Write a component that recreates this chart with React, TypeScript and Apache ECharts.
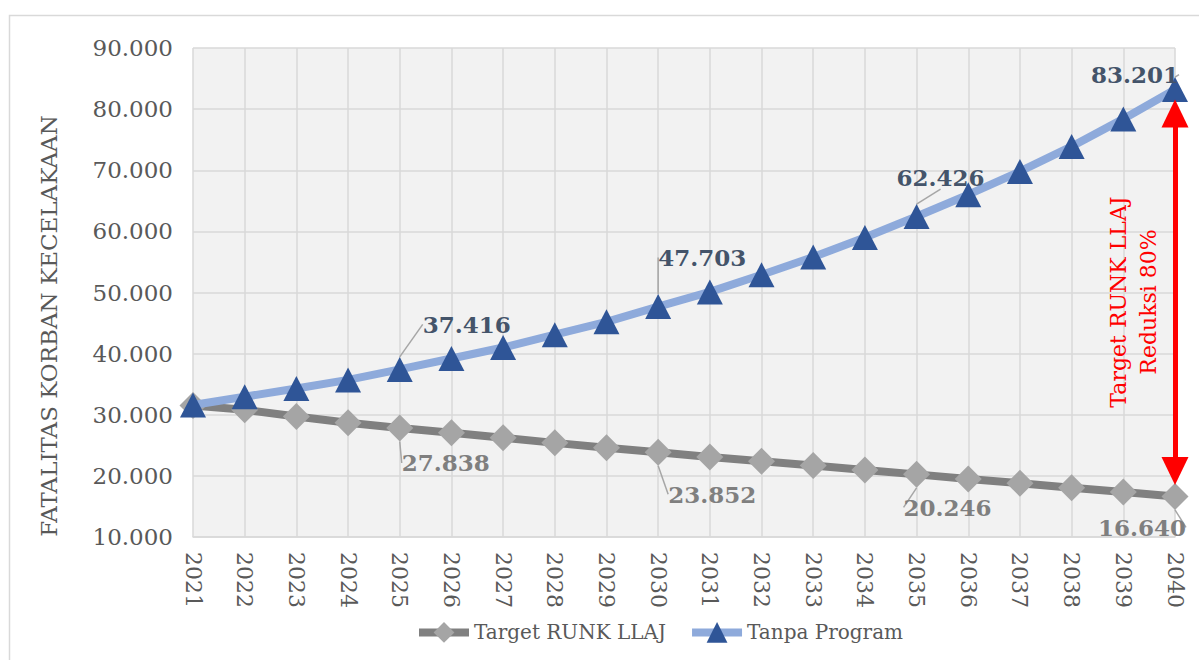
import React, { useEffect, useRef } from "react";
import * as echarts from "echarts";

const years = ["2021","2022","2023","2024","2025","2026","2027","2028","2029","2030","2031","2032","2033","2034","2035","2036","2037","2038","2039","2040"];
const targetRunk = [31500, 30800, 29700, 28700, 27838, 27060, 26250, 25400, 24600, 23852, 23100, 22400, 21700, 20960, 20246, 19500, 18800, 18070, 17360, 16640];
const tanpaProgram = [31600, 32950, 34300, 35700, 37416, 39200, 41000, 43100, 45200, 47703, 50100, 52900, 55800, 59000, 62426, 66000, 69800, 73900, 78400, 83201];
const labelledYears = ["2025", "2030", "2035", "2040"];
const yTicks = { min: 10000, max: 90000, interval: 10000 };
const seriesNames = ["Target RUNK LLAJ", "Tanpa Program"];
const yAxisTitle = "FATALITAS KORBAN KECELAKAAN";
const arrowText = "Target RUNK LLAJ\nReduksi 80%";
const arrowRange = [79300, 20800];

const fmt = (v: number) => (v / 1000).toFixed(3);

const targetOffsets: Record<string, [number, number]> = {
  "2025": [46, 35], "2030": [54, 42], "2035": [31, 33], "2040": [-33, 31],
};
const tanpaOffsets: Record<string, [number, number]> = {
  "2025": [67, -45], "2030": [44, -49], "2035": [24, -39], "2040": [-40, -15],
};

export default function App() {
  const ref = useRef<HTMLDivElement>(null);
  useEffect(() => {
    const chart = echarts.init(ref.current!, null, { renderer: "svg" });
    const font = "DejaVu Serif";
    const mk = (vals: number[], color: string) =>
      vals.map((v, i) =>
        labelledYears.includes(years[i])
          ? { value: v, label: { show: true, position: "inside", formatter: fmt(v), color, fontWeight: "bold", fontSize: 23, fontFamily: font } }
          : v
      );
    const layoutFor = (offs: Record<string, [number, number]>) => (p: any) => {
      const o = offs[years[p.dataIndex]];
      return o ? { dx: o[0], dy: o[1] } : {};
    };
    chart.setOption({
      animation: false,
      textStyle: { fontFamily: font },
      grid: { left: 193, right: 24, top: 48, bottom: 123, show: true, backgroundColor: "#f2f2f2", borderWidth: 0 },
      graphic: [
        { type: "rect", left: 7, top: 13, shape: { width: 1250, height: 700 }, style: { fill: "none", stroke: "#d9d9d9", lineWidth: 1.5 }, silent: true, z: -10 },
        {
          type: "text", x: 49, y: 326, rotation: Math.PI / 2,
          style: { text: yAxisTitle, fill: "#595959", font: `23px '${font}'`, align: "center", verticalAlign: "middle" },
          z: 100,
        },
        {
          type: "text", x: 1133, y: 302, rotation: Math.PI / 2,
          style: { text: arrowText, fill: "#ff0000", font: `22px '${font}'`, align: "center", verticalAlign: "middle", lineHeight: 30 },
          z: 100,
        },
      ],
      legend: {
        left: 410, top: 617, itemWidth: 50, itemHeight: 26, itemGap: 22,
        textStyle: { color: "#595959", fontSize: 20, fontFamily: font },
        lineStyle: { width: 8 },
        data: seriesNames,
      },
      xAxis: {
        type: "category", data: years, boundaryGap: false,
        axisLine: { lineStyle: { color: "#d9d9d9", width: 1.5 } },
        axisTick: { show: false },
        splitLine: { show: true, lineStyle: { color: "#d9d9d9", width: 1.5 } },
        axisLabel: { rotate: -90, color: "#595959", fontSize: 22, margin: 15, fontFamily: font },
      },
      yAxis: {
        type: "value", min: yTicks.min, max: yTicks.max, interval: yTicks.interval,
        axisLine: { show: false }, axisTick: { show: false },
        splitLine: { lineStyle: { color: "#d9d9d9", width: 1.5 } },
        axisLabel: { formatter: (v: number) => fmt(v), color: "#595959", fontSize: 23, margin: 20, fontFamily: font },
      },
      series: [
        {
          name: seriesNames[0], type: "line", data: mk(targetRunk, "#7f7f7f"),
          symbol: "diamond", symbolSize: 27,
          lineStyle: { color: "#808080", width: 8 },
          itemStyle: { color: "#a5a5a5" },
          labelLine: { show: true, lineStyle: { color: "#a6a6a6", width: 1.5 } },
          labelLayout: layoutFor(targetOffsets),
          z: 2,
        },
        {
          name: seriesNames[1], type: "line", data: mk(tanpaProgram, "#44546a"),
          symbol: "triangle", symbolSize: [26, 25],
          lineStyle: { color: "#8eaadb", width: 8 },
          itemStyle: { color: "#2f5597" },
          labelLine: { show: true, lineStyle: { color: "#a6a6a6", width: 1.5 } },
          labelLayout: layoutFor(tanpaOffsets),
          z: 3,
          markLine: {
            silent: true, symbol: ["triangle", "triangle"], symbolSize: [27, 28],
            label: { show: false },
            lineStyle: { color: "#ff0000", width: 5, type: "solid" },
            data: [[{ coord: [years[years.length - 1], arrowRange[0]] }, { coord: [years[years.length - 1], arrowRange[1]] }]],
          },
        },
      ],
    });
    return () => chart.dispose();
  }, []);
  return <div ref={ref} style={{ position: "fixed", left: 0, top: 0, width: 1199, height: 660, background: "#fff" }} />;
}
